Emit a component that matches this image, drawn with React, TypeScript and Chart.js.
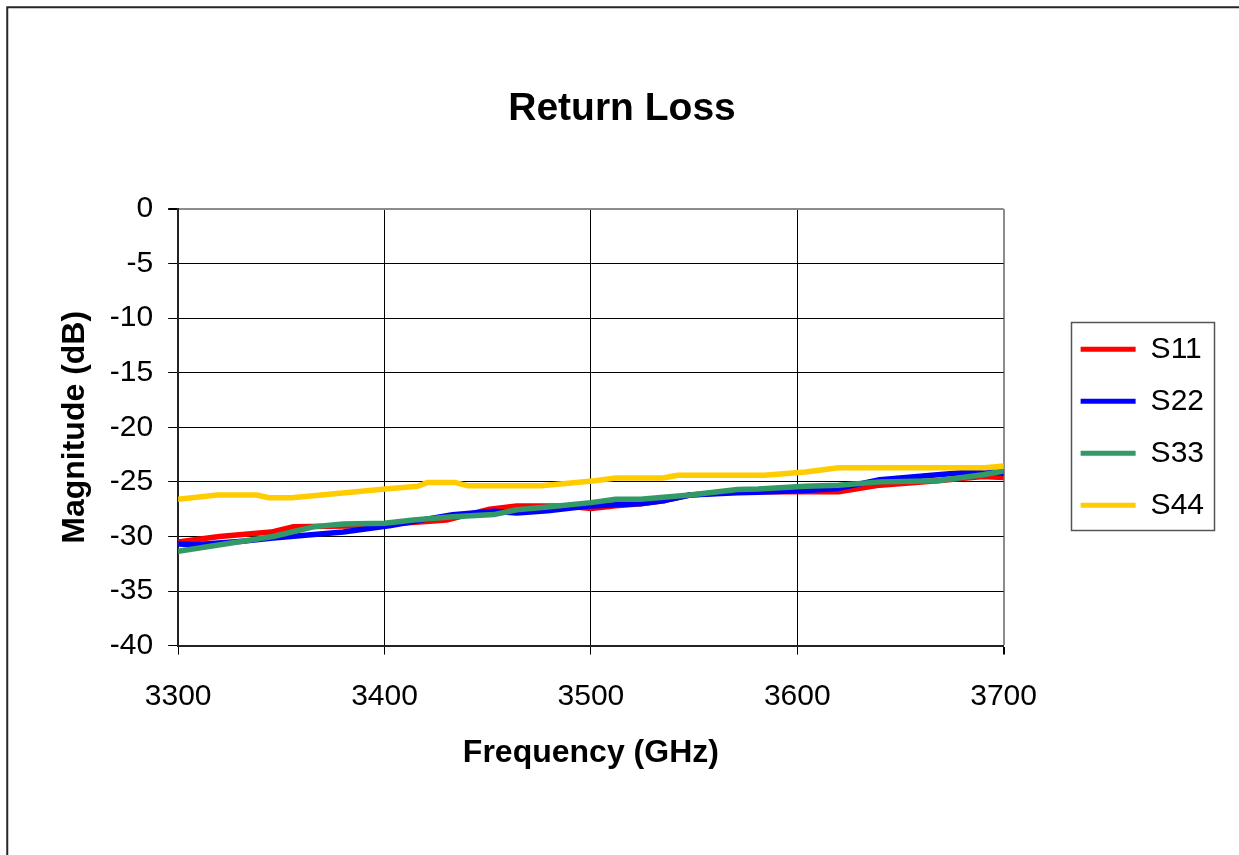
import React, { useEffect, useRef } from "react";
import { Chart, registerables } from "chart.js";

Chart.register(...registerables);

const chartTitle = "Return Loss";
const xAxisTitle = "Frequency (GHz)";
const yAxisTitle = "Magnitude (dB)";
const seriesNames = ["S11", "S22", "S33", "S44"];
const seriesColors = ["#FF0000", "#0000FF", "#339966", "#FFCC00"];

const xMin = 3300;
const xMax = 3700;
const xStep = 100;
const yMin = -40;
const yMax = 0;
const yStep = 5;

const s11Freq = [3300, 3308, 3320, 3345, 3356, 3382, 3400, 3430, 3451, 3464, 3487, 3500, 3512, 3524, 3536, 3548, 3571, 3600, 3620, 3640, 3668, 3690, 3700];
const s11Vals = [-30.5, -30.3, -30.0, -29.6, -29.1, -29.05, -28.9, -28.5, -27.5, -27.2, -27.2, -27.45, -27.2, -27.0, -26.7, -26.2, -25.9, -25.9, -25.9, -25.3, -24.9, -24.5, -24.6];

const s22Freq = [3300, 3308, 3331, 3346, 3380, 3403, 3433, 3453, 3464, 3479, 3500, 3512, 3524, 3536, 3548, 3571, 3581, 3604, 3620, 3640, 3668, 3690, 3700];
const s22Vals = [-30.7, -30.75, -30.45, -30.15, -29.6, -29.0, -28.0, -27.7, -27.85, -27.65, -27.2, -27.1, -27.0, -26.7, -26.2, -26.0, -25.95, -25.8, -25.6, -24.8, -24.35, -24.0, -24.2];

const s33Freq = [3300, 3346, 3366, 3380, 3400, 3414, 3433, 3453, 3464, 3479, 3500, 3512, 3524, 3548, 3571, 3581, 3604, 3620, 3640, 3668, 3690, 3700];
const s33Vals = [-31.35, -30.0, -29.1, -28.85, -28.8, -28.5, -28.2, -28.0, -27.55, -27.3, -26.9, -26.6, -26.6, -26.2, -25.7, -25.65, -25.4, -25.3, -25.0, -24.9, -24.35, -24.0];

const s44Freq = [3300, 3319, 3338, 3344, 3355, 3403, 3416, 3421, 3434, 3440, 3476, 3502, 3512, 3535, 3542, 3584, 3604, 3620, 3691, 3700];
const s44Vals = [-26.6, -26.2, -26.2, -26.45, -26.45, -25.6, -25.4, -25.05, -25.05, -25.35, -25.35, -24.9, -24.65, -24.65, -24.4, -24.4, -24.1, -23.7, -23.7, -23.55];

const seriesFreqs = [s11Freq, s22Freq, s33Freq, s44Freq];
const seriesVals = [s11Vals, s22Vals, s33Vals, s44Vals];
const drawOrder = [3, 2, 1, 0];

const FONT = "'Liberation Sans', Arial, Helvetica, sans-serif";

const framePlugin = {
  id: "frameAndLegendBox",
  beforeDraw(chart: any) {
    const ctx = chart.ctx;
    ctx.save();
    ctx.fillStyle = "#FFFFFF";
    ctx.fillRect(0, 0, chart.width, chart.height);
    ctx.strokeStyle = "#262626";
    ctx.lineWidth = 2;
    ctx.strokeRect(7.25, 7.25, chart.width + 50, chart.height + 50);
    ctx.restore();
  },
  afterDraw(chart: any) {
    const legend = chart.legend;
    if (!legend || !legend.legendHitBoxes || !legend.legendHitBoxes.length) return;
    const hb = legend.legendHitBoxes;
    const first = hb[0];
    const last = hb[hb.length - 1];
    let maxRight = 0;
    hb.forEach((h: any) => { maxRight = Math.max(maxRight, h.left + h.width); });
    const left = first.left - 10;
    const top = first.top - 12;
    const right = maxRight + 10;
    const bottom = last.top + last.height + 10;
    const ctx = chart.ctx;
    ctx.save();
    ctx.strokeStyle = "#555555";
    ctx.lineWidth = 1.5;
    ctx.strokeRect(Math.round(left) + 0.5, Math.round(top) + 0.5, Math.round(right - left), Math.round(bottom - top));
    ctx.restore();
  },
};

export default function App() {
  const canvasRef = useRef<HTMLCanvasElement | null>(null);

  useEffect(() => {
    const canvas = canvasRef.current;
    if (!canvas) return;

    const datasets = seriesNames.map((name, i) => ({
      label: name,
      data: seriesFreqs[i].map((f, j) => ({ x: f, y: seriesVals[i][j] })),
      borderColor: seriesColors[i],
      backgroundColor: seriesColors[i],
      borderWidth: 5.5,
      pointRadius: 0,
      pointHoverRadius: 0,
      tension: 0,
      fill: false,
      borderJoinStyle: "round" as const,
      borderCapStyle: "round" as const,
      order: drawOrder[i],
    }));

    const chart = new Chart(canvas, {
      type: "line",
      data: { datasets },
      plugins: [framePlugin],
      options: {
        animation: false,
        responsive: false,
        devicePixelRatio: 1,
        layout: { padding: { left: 30, right: 25, top: 0, bottom: 87.6 } },
        plugins: {
          title: {
            display: true,
            text: chartTitle,
            color: "#000000",
            font: { family: FONT, size: 39, weight: "bold" },
            padding: { top: 86, bottom: 76.2 },
          },
          legend: {
            display: true,
            position: "right",
            fullSize: false,
            labels: {
              color: "#000000",
              font: { family: FONT, size: 30 },
              boxWidth: 55,
              boxHeight: 5,
              padding: 22,
              sort: (a: any, b: any) => a.datasetIndex - b.datasetIndex,
              generateLabels: (c: any) => {
                const items = (Chart.defaults.plugins.legend.labels as any).generateLabels(c);
                return items.map((it: any) => ({ ...it, lineWidth: 0, fillStyle: it.strokeStyle }));
              },
            },
          },
          tooltip: { enabled: false },
        },
        scales: {
          x: {
            type: "linear",
            min: xMin,
            max: xMax,
            border: { display: true, color: "#222222", width: 2 },
            grid: {
              display: true,
              color: (ctx: any) => (ctx.tick && ctx.tick.value === xMax ? "#8c8c8c" : "#000000"),
              lineWidth: (ctx: any) => (ctx.tick && ctx.tick.value === xMax ? 2 : 1),
              tickColor: "#000000",
              tickLength: 9,
              drawTicks: true,
            },
            ticks: {
              stepSize: xStep,
              color: "#000000",
              font: { family: FONT, size: 30 },
              padding: 24,
              maxRotation: 0,
              callback: (v: any) => String(v),
            },
            title: {
              display: true,
              text: xAxisTitle,
              color: "#000000",
              font: { family: FONT, size: 32, weight: "bold", lineHeight: 0.9 },
              padding: { top: 0, bottom: 0 },
            },
          },
          y: {
            type: "linear",
            min: yMin,
            max: yMax,
            border: { display: true, color: "#222222", width: 2 },
            grid: {
              display: true,
              color: (ctx: any) => (ctx.tick && ctx.tick.value === yMax ? "#8c8c8c" : "#000000"),
              lineWidth: (ctx: any) => (ctx.tick && ctx.tick.value === yMax ? 2 : 1),
              tickColor: "#000000",
              tickLength: 10,
              drawTicks: true,
            },
            ticks: {
              stepSize: yStep,
              color: "#000000",
              font: { family: FONT, size: 30 },
              padding: 15,
              callback: (v: any) => String(v),
            },
            title: {
              display: true,
              text: yAxisTitle,
              color: "#000000",
              font: { family: FONT, size: 32, weight: "bold" },
              padding: { top: 25.8, bottom: 0.6 },
            },
          },
          spacer: {
            type: "linear",
            position: "right",
            display: true,
            grid: { display: false, drawTicks: false },
            border: { display: false },
            ticks: { display: false },
            afterFit: (s: any) => {
              s.width = 55;
            },
          },
        },
      } as any,
    });

    return () => {
      chart.destroy();
    };
  }, []);

  return (
    <div style={{ position: "fixed", left: 0, top: 0, width: 1239, height: 855, overflow: "hidden", background: "#fff" }}>
      <canvas ref={canvasRef} width={1239} height={855} style={{ width: 1239, height: 855, display: "block" }} />
    </div>
  );
}
